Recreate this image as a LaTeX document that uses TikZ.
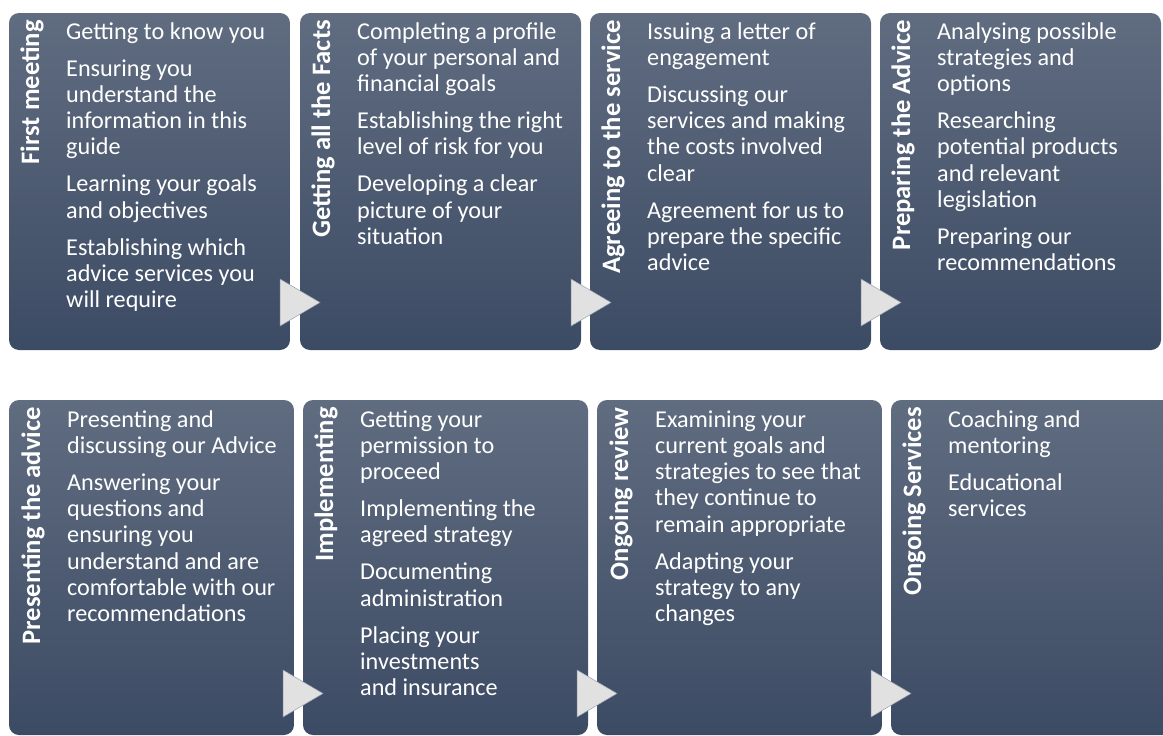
\documentclass[tikz,border=0pt]{standalone}
\usepackage{fontspec}
\setmainfont{Carlito}
\usepackage{tikz}

\definecolor{boxtop}{RGB}{96,108,128}
\definecolor{boxmid}{RGB}{68,83,107}
\definecolor{boxbot}{RGB}{60,75,100}
\definecolor{arrowgray}{RGB}{225,225,225}
\definecolor{arrowedge}{RGB}{150,160,175}

\tikzset{
  stagebox/.style={rounded corners=10pt, top color=boxtop, middle color=boxmid, bottom color=boxbot},
  stagetitle/.style={rotate=90, anchor=base east, inner sep=0pt, text=white,
                     font=\bfseries\fontsize{26.6}{30}\selectfont},
  stagetext/.style={anchor=north west, inner sep=0pt, align=left, text=white,
                    font=\fontsize{24.2}{26.2}\selectfont},
  nextarrow/.style={fill=arrowgray, draw=arrowedge, line width=0.5pt},
}
\newcommand{\gap}{\\[10.8pt]}

\begin{document}
\begin{tikzpicture}[x=1pt, y=-1pt]
        \useasboundingbox (0,0) rectangle (1163,736);
        \clip (0,0) rectangle (1163,736);
        % top row
        \shade [stagebox] (9,13)   rectangle (290,350);              %first meeting
        \shade [stagebox] (300,13) rectangle (581,350);              %facts
        \shade [stagebox] (590,13) rectangle (871,350);              %agreeing
        \shade [stagebox] (880,13) rectangle (1161,350);             %preparing
        \draw  [nextarrow] (280,279) -- (320,302.5) -- (280,326) -- cycle;
        \draw  [nextarrow] (571,279) -- (611,302.5) -- (571,326) -- cycle;
        \draw  [nextarrow] (861,279) -- (901,302.5) -- (861,326) -- cycle;
        % bottom row
        \shade [stagebox] (9,400)   rectangle (294,735);             %presenting
        \shade [stagebox] (303,400) rectangle (588,735);             %implementing
        \shade [stagebox] (597,400) rectangle (882,735);             %review
        \shade [stagebox] (891,400) rectangle (1190,735);            %services
        \draw  [nextarrow] (283,670) -- (323,693.5) -- (283,717) -- cycle;
        \draw  [nextarrow] (577,670) -- (617,693.5) -- (577,717) -- cycle;
        \draw  [nextarrow] (871,670) -- (911,693.5) -- (871,717) -- cycle;

        \node [stagetitle] (meet)   at (39,20)   {First meeting};
        \node [stagetext]  (meettx) at (66,20.7) {\strut Getting to know you\gap
          Ensuring you\\ understand the\\ information in this\\ guide\gap
          Learning your goals\\ and objectives\gap
          Establishing which\\ advice services you\\ will require};

        \node [stagetitle] (facts)   at (330,20)   {Getting all the Facts};
        \node [stagetext]  (factstx) at (357,20.7) {\strut Completing a profile\\ of your personal and\\ financial goals\gap
          Establishing the right\\ level of risk for you\gap
          Developing a clear\\ picture of your\\ situation};

        \node [stagetitle] (agree)   at (620,20)   {Agreeing to the service};
        \node [stagetext]  (agreetx) at (647,20.7) {\strut Issuing a letter of\\ engagement\gap
          Discussing our\\ services and making\\ the costs involved\\ clear\gap
          Agreement for us to\\ prepare the specific\\ advice};

        \node [stagetitle] (prep)   at (910,20)   {Preparing the Advice};
        \node [stagetext]  (preptx) at (937,20.7) {\strut Analysing possible\\ strategies and\\ options\gap
          Researching\\ potential products\\ and relevant\\ legislation\gap
          Preparing our\\ recommendations};

        \node [stagetitle] (pres)   at (40,407)    {Presenting the advice};
        \node [stagetext]  (prestx) at (67,408.7)  {\strut Presenting and\\ discussing our Advice\gap
          Answering your\\ questions and\\ ensuring you\\ understand and are\\ comfortable with our\\ recommendations};

        \node [stagetitle] (impl)   at (333,407)   {Implementing};
        \node [stagetext]  (impltx) at (360,408.7) {\strut Getting your\\ permission to\\ proceed\gap
          Implementing the\\ agreed strategy\gap
          Documenting\\ administration\gap
          Placing your\\ investments\\ and insurance};

        \node [stagetitle] (review)   at (628,407)   {Ongoing review};
        \node [stagetext]  (reviewtx) at (655,408.7) {\strut Examining your\\ current goals and\\ strategies to see that\\ they continue to\\ remain appropriate\gap
          Adapting your\\ strategy to any\\ changes};

        \node [stagetitle] (serv)   at (921,407)   {Ongoing Services};
        \node [stagetext]  (servtx) at (948,408.7) {\strut Coaching and\\ mentoring\gap
          Educational\\ services};
\end{tikzpicture}
\end{document}
